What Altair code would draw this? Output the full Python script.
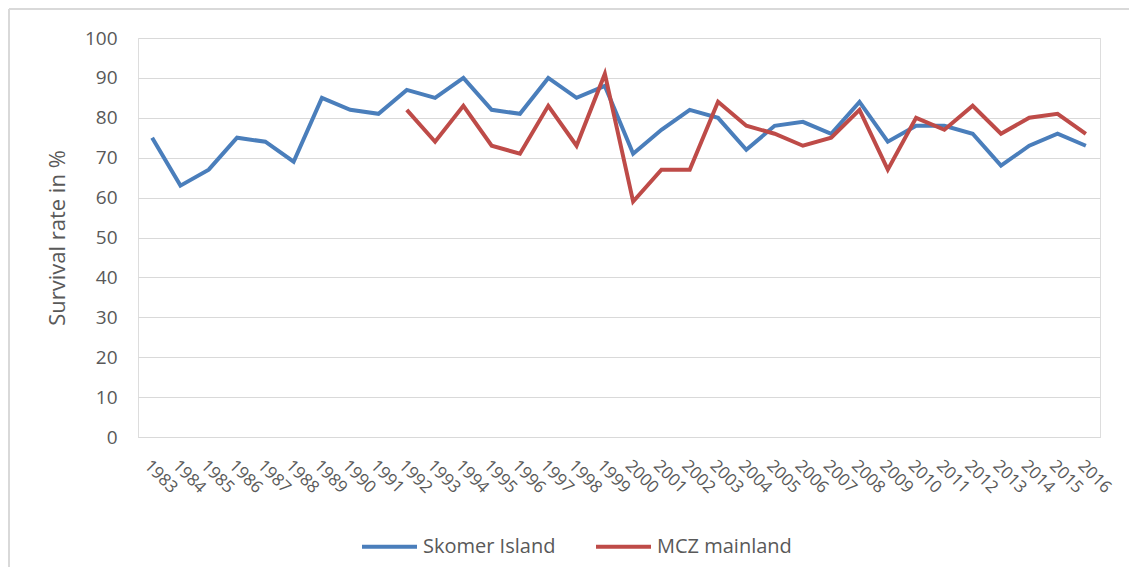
import altair as alt
import pandas as pd

years = [str(y) for y in range(1983, 2017)]

skomer = [75, 63, 67, 75, 74, 69, 85, 82, 81, 87, 85, 90, 82, 81, 90, 85, 88,
          71, 77, 82, 80, 72, 78, 79, 76, 84, 74, 78, 78, 76, 68, 73, 76, 73]

mcz_years = [str(y) for y in range(1992, 2017)]
mcz = [82, 74, 83, 73, 71, 83, 73, 91, 59, 67, 67, 84, 78, 76, 73, 75, 82,
       67, 80, 77, 83, 76, 80, 81, 76]

series_names = ["Skomer Island", "MCZ mainland"]
series_colors = ["#4A7EBB", "#BE4B48"]

df_sk = pd.DataFrame({"Year": years, "Rate": skomer, "Series": series_names[0]})
df_mcz = pd.DataFrame({"Year": mcz_years, "Rate": mcz, "Series": series_names[1]})

W, H = 962, 399
FONT = "Open Sans"
GREY = "#595959"

x_enc = alt.X("Year:O", sort=years,
              scale=alt.Scale(domain=years, paddingOuter=0.5),
              axis=alt.Axis(title=None, labelAngle=45, labelFontSize=17,
                            labelColor=GREY, labelFont=FONT, ticks=False,
                            domain=True, domainColor="#D9D9D9", labelPadding=20,
                            grid=False, labelAlign="left", labelBaseline="top"))
y_enc = alt.Y("Rate:Q", scale=alt.Scale(domain=[0, 100], nice=False),
              axis=alt.Axis(title="Survival rate in %", values=list(range(0, 101, 10)),
                            labelFontSize=19, labelColor=GREY, labelFont=FONT,
                            ticks=False, domain=False, grid=True, gridColor="#D9D9D9",
                            gridWidth=1, labelPadding=21, titleFont=FONT,
                            titleFontSize=22, titleFontWeight="normal",
                            titleColor=GREY, titlePadding=15))
color_enc = alt.Color("Series:N",
                      scale=alt.Scale(domain=series_names, range=series_colors),
                      legend=alt.Legend(title=None, orient="none", direction="horizontal",
                                        legendX=222, legendY=479, symbolType="stroke",
                                        symbolSize=3025, symbolStrokeWidth=4,
                                        labelFont=FONT, labelFontSize=20, labelColor=GREY,
                                        labelOffset=4, columnPadding=32, symbolOffset=0))

line_sk = alt.Chart(df_sk).mark_line(strokeWidth=4).encode(x=x_enc, y=y_enc, color=color_enc)
line_mcz = alt.Chart(df_mcz).mark_line(strokeWidth=4).encode(x=x_enc, y=y_enc, color=color_enc)

frame_data = pd.DataFrame({"k": [0]})
frame_left = alt.Chart(frame_data).mark_rule(color="#D9D9D9", strokeWidth=2).encode(
    x=alt.value(-129), y=alt.value(-29), y2=alt.value(H + 200))
frame_top = alt.Chart(frame_data).mark_rule(color="#D9D9D9", strokeWidth=2).encode(
    x=alt.value(-129), x2=alt.value(W + 100), y=alt.value(-29))

chart = alt.layer(frame_left, frame_top, line_sk, line_mcz).properties(
    width=W, height=H,
    autosize=alt.AutoSizeParams(type="none"),
    padding={"left": 130, "top": 30, "right": 29, "bottom": 130},
).configure_view(stroke=None).configure(background="white")

chart.save("out.html", embed_options={"renderer": "svg", "actions": False})
